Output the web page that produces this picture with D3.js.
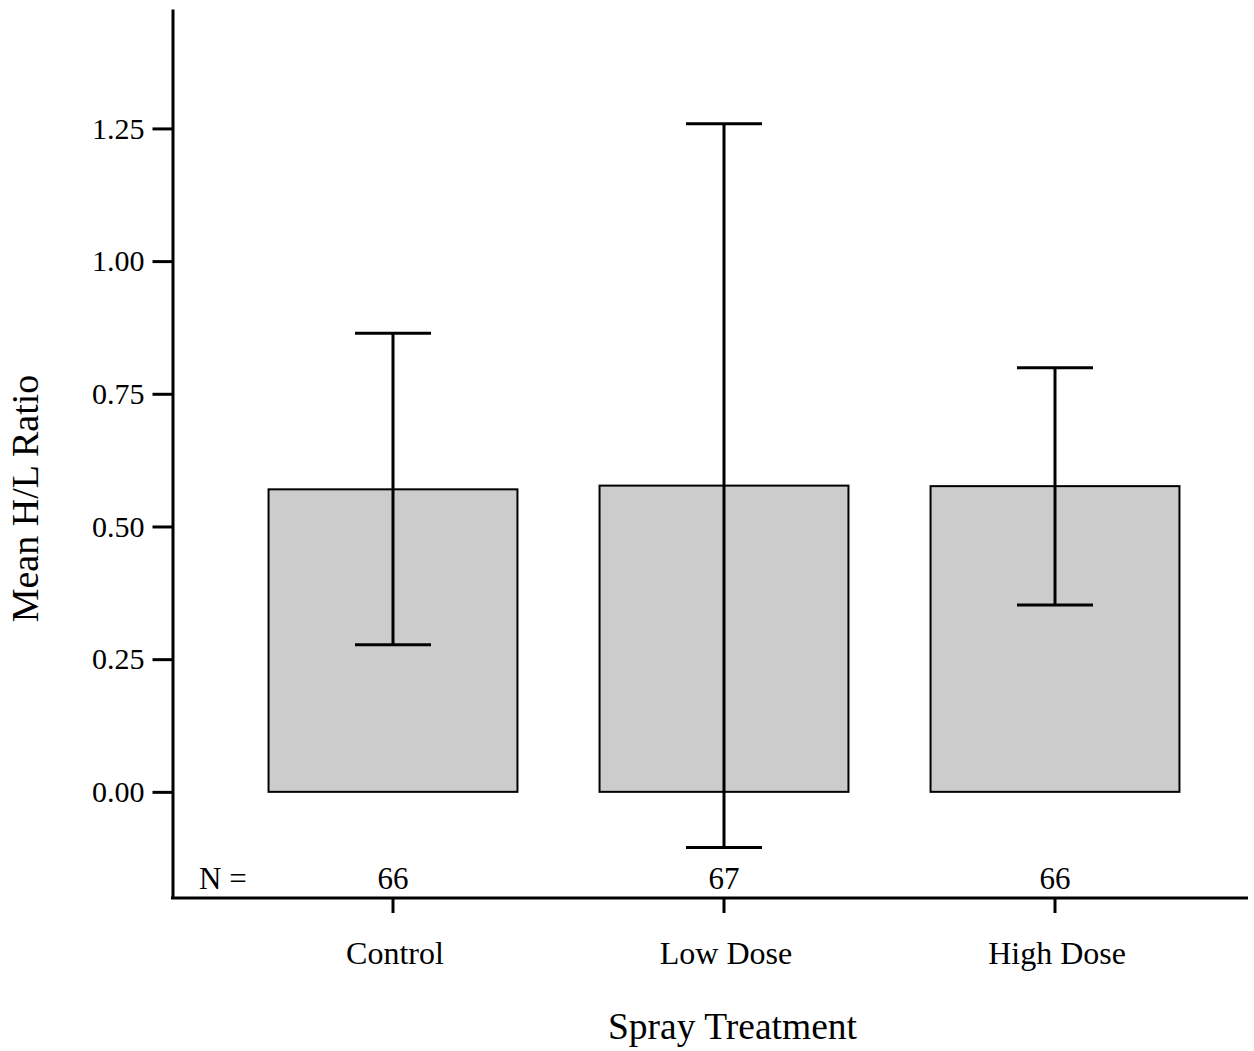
<!DOCTYPE html>
<html>
<head>
<meta charset="utf-8">
<script src="https://cdn.jsdelivr.net/npm/d3@7"></script>
<style>
  html, body { margin: 0; padding: 0; background: #fff; }
  svg { display: block; }
  text { font-family: "Liberation Serif", "Times New Roman", serif; fill: #000; }
</style>
</head>
<body>
<svg id="chart" width="1254" height="1051"></svg>
<script>
// Mean H/L ratio by spray treatment, with error bars and group sizes
const categories = ["Control", "Low Dose", "High Dose"];
const means      = [0.570, 0.577, 0.576];
const upperError = [0.864, 1.259, 0.799];
const lowerError = [0.277, -0.105, 0.352];
const groupN     = [66, 67, 66];
const yTicks     = [0, 0.25, 0.5, 0.75, 1.0, 1.25];

const svg = d3.select("#chart");

const plotLeft = 172.5, plotRight = 1248, plotTop = 9, plotBottom = 898;

const y = d3.scaleLinear().domain([-0.2, 1.475]).range([plotBottom, plotTop]);
const x = d3.scaleBand()
  .domain(categories)
  .range([227.5, 1220.5])
  .paddingInner(0.248)
  .paddingOuter(0.124);
const bw = x.bandwidth();
const cx = c => x(c) + bw / 2;

// Bars
svg.append("g").selectAll("rect")
  .data(categories)
  .join("rect")
  .attr("x", c => x(c))
  .attr("y", (c, i) => y(means[i]))
  .attr("width", bw)
  .attr("height", (c, i) => y(0) - y(means[i]))
  .attr("fill", "#cccccc")
  .attr("stroke", "#000")
  .attr("stroke-width", 2);

// Error bars
const capHalf = 38;
const err = svg.append("g").attr("stroke", "#000").attr("stroke-width", 3).attr("fill", "none");
categories.forEach((c, i) => {
  err.append("line").attr("x1", cx(c)).attr("x2", cx(c))
    .attr("y1", y(upperError[i])).attr("y2", y(lowerError[i]));
  err.append("line").attr("x1", cx(c) - capHalf).attr("x2", cx(c) + capHalf)
    .attr("y1", y(upperError[i])).attr("y2", y(upperError[i]));
  err.append("line").attr("x1", cx(c) - capHalf).attr("x2", cx(c) + capHalf)
    .attr("y1", y(lowerError[i])).attr("y2", y(lowerError[i]));
});

// Y axis
const yAxis = svg.append("g")
  .attr("transform", `translate(${plotLeft},0)`)
  .call(d3.axisLeft(y).tickValues(yTicks).tickFormat(d3.format(".2f"))
    .tickSize(20).tickSizeOuter(0).tickPadding(8));
yAxis.selectAll("path, line").attr("stroke", "#000").attr("stroke-width", 3);
yAxis.selectAll("text").attr("font-size", 30).attr("font-family", "Liberation Serif");

// X axis
const xAxis = svg.append("g")
  .attr("transform", `translate(0,${plotBottom})`)
  .call(d3.axisBottom(x).tickSize(15).tickSizeOuter(0).tickPadding(28));
xAxis.select(".domain").remove();
xAxis.selectAll("line").attr("stroke", "#000").attr("stroke-width", 3);
xAxis.selectAll("text").attr("font-size", 32).attr("dx", 2).attr("font-family", "Liberation Serif");
svg.append("line")
  .attr("x1", plotLeft - 1.5).attr("x2", plotRight)
  .attr("y1", plotBottom).attr("y2", plotBottom)
  .attr("stroke", "#000").attr("stroke-width", 3);

// Group sizes
svg.append("text").attr("x", 199).attr("y", 889).attr("font-size", 31).text("N =");
svg.append("g").selectAll("text")
  .data(categories)
  .join("text")
  .attr("x", c => cx(c))
  .attr("y", 889)
  .attr("text-anchor", "middle")
  .attr("font-size", 31)
  .text((c, i) => groupN[i]);

// Axis titles
svg.append("text")
  .attr("x", 732.5).attr("y", 1039)
  .attr("text-anchor", "middle")
  .attr("font-size", 37.5)
  .text("Spray Treatment");
svg.append("text")
  .attr("transform", "translate(38,498.5) rotate(-90)")
  .attr("text-anchor", "middle")
  .attr("font-size", 38)
  .text("Mean H/L Ratio");
</script>
</body>
</html>
